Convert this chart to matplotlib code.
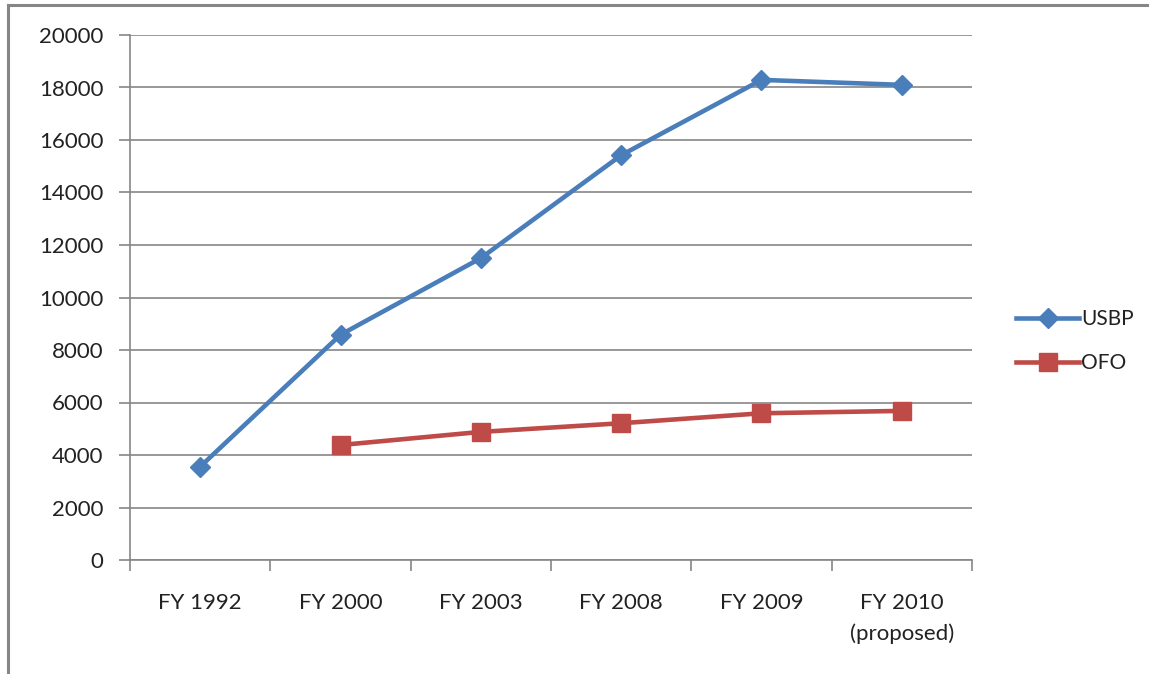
import matplotlib.pyplot as plt
from matplotlib.lines import Line2D

plt.rcParams['font.family'] = ['Lato', 'DejaVu Sans']

categories = ['FY 1992', 'FY 2000', 'FY 2003', 'FY 2008', 'FY 2009', 'FY 2010\n(proposed)']
usbp = [3555, 8580, 11500, 15420, 18290, 18100]
ofo_years = [1, 2, 3, 4, 5]
ofo = [4380, 4880, 5210, 5590, 5680]
y_ticks = list(range(0, 20001, 2000))

blue = '#4A7EBB'
red = '#BE4B48'
grid_c = '#868686'
txt_c = '#222222'

fig = plt.figure(figsize=(11.49, 6.74), dpi=100)
ax = fig.add_axes([130 / 1149, 1 - 560 / 674, (972 - 130) / 1149, (560 - 35) / 674])

xs = list(range(len(categories)))
ax.plot(xs, usbp, color=blue, lw=3.3, marker='D', ms=10, label='USBP', zorder=3)
ax.plot(ofo_years, ofo, color=red, lw=3.3, marker='s', ms=13, label='OFO', zorder=3)

ax.set_xlim(-0.5, len(categories) - 0.5)
ax.set_ylim(0, 20000)
ax.set_yticks(y_ticks)
ax.set_yticklabels([str(v) for v in y_ticks], fontsize=16, color=txt_c)
ax.yaxis.grid(True, color=grid_c, lw=1.2)
ax.set_axisbelow(True)

# category boundaries get the tick marks, labels sit in the middle
ax.set_xticks([i - 0.5 for i in range(len(categories) + 1)])
ax.set_xticklabels([])
ax.set_xticks(xs, minor=True)
ax.set_xticklabels(categories, minor=True, fontsize=16, color=txt_c, linespacing=1.6)
ax.tick_params(axis='x', which='major', length=8, color=grid_c, width=1.2)
ax.tick_params(axis='x', which='minor', length=0, pad=24)
ax.tick_params(axis='y', length=8, color=grid_c, width=1.2, pad=11)

for s in ['top', 'right']:
    ax.spines[s].set_visible(False)
for s in ['left', 'bottom']:
    ax.spines[s].set_color(grid_c)
    ax.spines[s].set_linewidth(1.2)

ax.legend(loc='center left', bbox_to_anchor=(1008 / 1149, 1 - 341 / 674),
          bbox_transform=fig.transFigure, frameon=False, fontsize=15,
          handlelength=3.0, handletextpad=0.1, labelspacing=1.15, borderaxespad=0,
          labelcolor=txt_c)

# outer frame (left and top edges only visible)
fig.add_artist(Line2D([8 / 1149, 8 / 1149], [0, 1 - 5 / 674], color=grid_c, lw=2.2,
                      transform=fig.transFigure))
fig.add_artist(Line2D([8 / 1149, 1], [1 - 5 / 674, 1 - 5 / 674], color=grid_c, lw=2.2,
                      transform=fig.transFigure))

fig.savefig('out.png', dpi=100)
